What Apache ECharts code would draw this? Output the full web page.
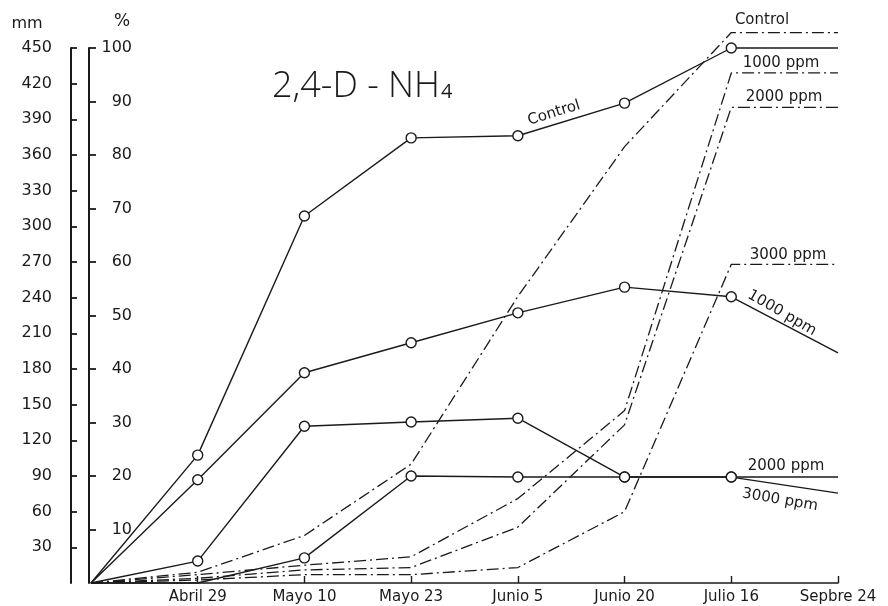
<!DOCTYPE html>
<html>
<head>
<meta charset="utf-8">
<script src="https://cdn.jsdelivr.net/npm/echarts@6/dist/echarts.min.js"></script>
<style>
  html, body { margin: 0; padding: 0; background: #fff; }
  #chart { width: 888px; height: 606px; }
</style>
</head>
<body>
<div id="chart"></div>
<script>
// Sampling dates (first entry is the starting point at the origin)
const dates = ['', 'Abril 29', 'Mayo 10', 'Mayo 23', 'Junio 5', 'Junio 20', 'Julio 16', 'Sepbre 24'];

// Percent curves (solid, with circles) – right-hand scale, %
const pctControl = [0, 23.9, 68.6, 83.2, 83.6, 89.7, 100, 100];
const pct1000 = [0, 19.3, 39.3, 44.9, 50.5, 55.3, 53.5, 43.0];
const pct2000 = [0, 4.1, 29.3, 30.1, 30.8, 19.8, 19.8, 19.8];
const pct3000 = [0, 0, 4.7, 20.0, 19.8, 19.8, 19.8, 16.8];

// Growth curves (dash-dot) – left-hand scale, mm
const mmControl = [0, 9, 40, 100, 241, 367, 463, 463];
const mm1000 = [0, 7, 15, 22, 71, 145, 429, 429];
const mm2000 = [0, 4, 11, 13, 47, 133, 400, 400];
const mm3000 = [0, 2.5, 7, 7, 13, 60, 268, 268];

// Axis scales
const mmMax = 450, mmStep = 30;
const pctMax = 100, pctStep = 10;

const INK = '#1a1a1a';
const FONT = 'DejaVu Sans';

// Circles on the intermediate dates only; no marker at origin/end (or where flagged)
function withMarkers(values, hidden) {
  return values.map((v, i) => {
    const last = i === values.length - 1;
    if (i === 0 || last || (hidden && hidden.indexOf(i) >= 0)) {
      return { value: v, symbol: 'none' };
    }
    return v;
  });
}

function solid(name, values, hidden) {
  return {
    name, type: 'line', yAxisIndex: 1, clip: false,
    data: withMarkers(values, hidden),
    symbol: 'circle', symbolSize: 10, showSymbol: true,
    lineStyle: { color: INK, width: 1.4 },
    itemStyle: { color: '#fff', borderColor: INK, borderWidth: 1.4 },
    z: 3
  };
}

function dashDot(name, values) {
  return {
    name, type: 'line', yAxisIndex: 0, clip: false,
    data: values, showSymbol: false, symbol: 'none',
    lineStyle: { color: INK, width: 1.3, type: [12, 4, 2, 4] },
    z: 2
  };
}

const chart = echarts.init(document.getElementById('chart'), null, { renderer: 'canvas' });

const txt = (text, x, y, size, rot, extra) => ({
  type: 'text', x, y, rotation: rot || 0,
  style: Object.assign({
    text, fill: INK, font: `${size}px "${FONT}"`, align: 'center', verticalAlign: 'middle'
  }, extra || {})
});

chart.setOption({
  animation: false,
  backgroundColor: '#fff',
  grid: { left: 91, right: 50, top: 48, bottom: 23, containLabel: false },
  xAxis: {
    type: 'category', data: dates, boundaryGap: false,
    axisLine: { lineStyle: { color: INK, width: 1.6 } },
    axisTick: { show: true, inside: true, length: 7, alignWithLabel: true,
                lineStyle: { color: INK, width: 1.4 },
                interval: function (i) { return i > 0; } },
    axisLabel: { interval: 0, margin: 7, color: INK, fontFamily: FONT, fontSize: 15 },
    splitLine: { show: false }
  },
  yAxis: [
    {
      type: 'value', position: 'left', offset: 20,
      min: 0, max: mmMax, interval: mmStep,
      axisLine: { show: true, lineStyle: { color: INK, width: 2 } },
      axisTick: { show: true, inside: true, length: 6, lineStyle: { color: INK, width: 1.8 } },
      axisLabel: { showMinLabel: false, margin: 19, color: INK, fontFamily: FONT, fontSize: 16,
                   padding: [0, 0, 8, 0] },
      splitLine: { show: false }
    },
    {
      type: 'value', position: 'left', offset: 2,
      min: 0, max: pctMax, interval: pctStep,
      axisLine: { show: true, lineStyle: { color: INK, width: 2 } },
      axisTick: { show: true, inside: true, length: 7, lineStyle: { color: INK, width: 1.8 } },
      axisLabel: { showMinLabel: false, inside: true, align: 'right', margin: 43,
                   color: INK, fontFamily: FONT, fontSize: 16, padding: [0, 0, 8, 0] },
      splitLine: { show: false }
    }
  ],
  series: [
    solid('Control %', pctControl),
    solid('1000 ppm %', pct1000),
    solid('2000 ppm %', pct2000),
    solid('3000 ppm %', pct3000, [1]),
    dashDot('Control mm', mmControl),
    dashDot('1000 ppm mm', mm1000),
    dashDot('2000 ppm mm', mm2000),
    dashDot('3000 ppm mm', mm3000)
  ],
  graphic: [
    // axis units
    txt('mm', 27, 24, 16),
    txt('%', 122, 22, 17),
    // heading
    { type: 'text', x: 272, y: 105,
      style: {
        text: '{a|2,4-D - NH}{b|4}',
        verticalAlign: 'bottom', align: 'left',
        rich: {
          a: { fill: INK, font: '300 36px "Open Sans"', verticalAlign: 'bottom' },
          b: { fill: INK, font: '20px "Open Sans"', verticalAlign: 'bottom', padding: [0, 0, 3, 1] }
        }
      } },
    // curve names
    txt('Control', 554, 113, 15, 0.30, { letterSpacing: 1 }),
    txt('Control', 762, 20, 15, 0, { letterSpacing: 1.5 }),
    txt('1000 ppm', 781, 63, 15, 0, { letterSpacing: 1.5 }),
    txt('2000 ppm', 784, 97, 15, 0, { letterSpacing: 2 }),
    txt('3000 ppm', 788, 255, 15, 0, { letterSpacing: 2.5 }),
    txt('1000 ppm', 782, 313, 15, -0.52, { letterSpacing: 1.5 }),
    txt('2000 ppm', 786, 466, 15, 0, { letterSpacing: 1.5 }),
    txt('3000 ppm', 780, 500, 15, -0.17, { letterSpacing: 3 })
  ]
});
</script>
</body>
</html>
